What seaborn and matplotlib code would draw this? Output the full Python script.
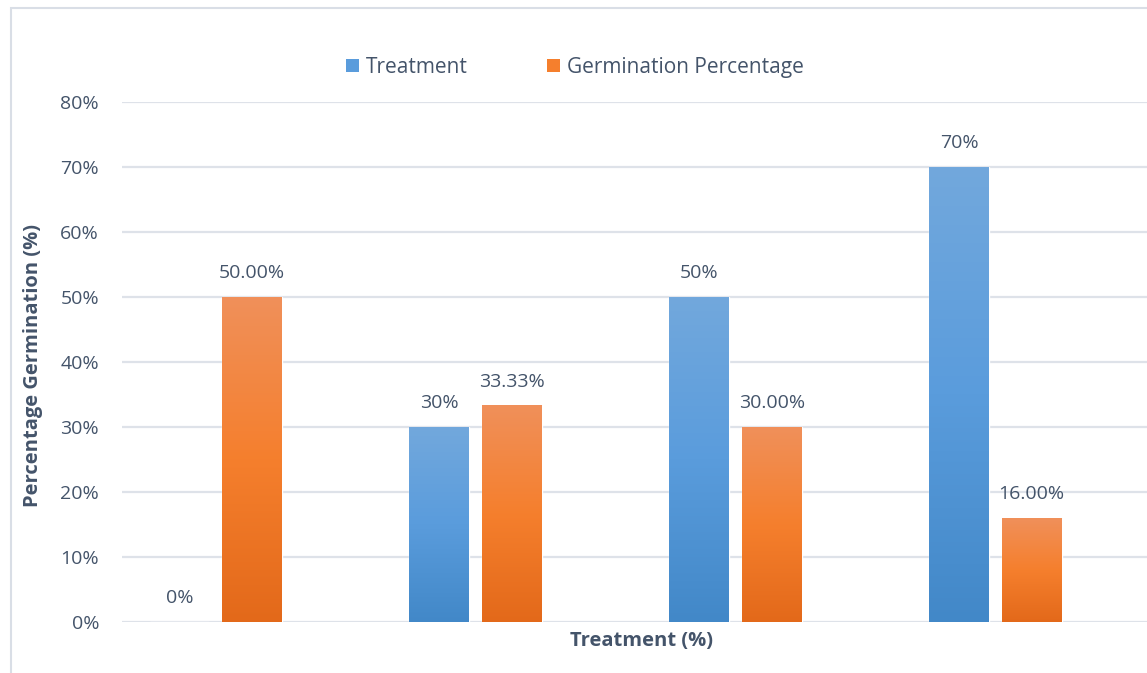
import numpy as np
import pandas as pd
import matplotlib
matplotlib.use("Agg")
import matplotlib.pyplot as plt
from matplotlib.colors import LinearSegmentedColormap
from matplotlib.patches import Rectangle, Patch
import seaborn as sns

# ---- data ----
groups = ["G1", "G2", "G3", "G4"]
treatment = [0.00, 0.30, 0.50, 0.70]
germination = [0.50, 0.3333, 0.30, 0.16]
treatment_labels = ["0%", "30%", "50%", "70%"]
germination_labels = ["50.00%", "33.33%", "30.00%", "16.00%"]
series_names = ["Treatment", "Germination Percentage"]
yticks = [0, 0.1, 0.2, 0.3, 0.4, 0.5, 0.6, 0.7, 0.8]
ytick_labels = ["0%", "10%", "20%", "30%", "40%", "50%", "60%", "70%", "80%"]

df = pd.DataFrame({
    "group": groups * 2,
    "series": [series_names[0]] * 4 + [series_names[1]] * 4,
    "value": treatment + germination,
})

sns.set_theme(style="white")
plt.rcParams["font.family"] = ["Open Sans", "DejaVu Sans"]

TXT = "#44546A"
GRID = "#DEE2E9"
blue_stops = ["#72A8DD", "#5A9CDC", "#4288C8"]
orange_stops = ["#F0905A", "#F57F2D", "#E3691A"]
base_colors = ["#5B9BD5", "#ED7D31"]

W, H = 1147, 673
fig = plt.figure(figsize=(W / 100, H / 100), dpi=100)
ax = fig.add_axes([122 / W, (H - 622) / H, (W - 122) / W, 520 / H])

sns.barplot(data=df, x="group", y="value", hue="series", hue_order=series_names,
            order=groups, palette=base_colors, width=0.558, gap=0.178,
            ax=ax, legend=False, saturation=1, errorbar=None, zorder=3)

# gradient fills per bar
cmaps = [LinearSegmentedColormap.from_list("b", blue_stops),
         LinearSegmentedColormap.from_list("o", orange_stops)]
grad = np.linspace(0, 1, 256).reshape(-1, 1)
containers = ax.containers
for ci, cont in enumerate(containers):
    for p in cont.patches:
        x0, y0 = p.get_x(), p.get_y()
        w, h = p.get_width(), p.get_height()
        if h <= 0:
            continue
        ax.imshow(grad, cmap=cmaps[ci], aspect="auto", origin="upper",
                  extent=[x0, x0 + w, y0, y0 + h], zorder=3.5, interpolation="bilinear")

# data labels
all_labels = [treatment_labels, germination_labels]
for ci, cont in enumerate(containers):
    for i, p in enumerate(cont.patches):
        cx = p.get_x() + p.get_width() / 2
        top = p.get_height()
        ax.annotate(all_labels[ci][i], (cx, top), xytext=(0, 10.5), textcoords="offset points",
                    ha="center", va="bottom", fontsize=14, color=TXT, zorder=5)

ax.set_xlim(-0.36, 3.583)
ax.set_ylim(0, 0.8)
ax.set_yticks(yticks)
ax.set_yticklabels(ytick_labels, fontsize=14, color=TXT)
ax.tick_params(axis="y", length=0, pad=16.5)
ax.set_xticks([])
ax.set_xlabel("")
ax.set_ylabel("")
for s in ax.spines.values():
    s.set_visible(False)
ax.yaxis.grid(True, color=GRID, linewidth=1.6, zorder=0)
ax.set_axisbelow(True)

# axis titles
fig.text(642 / W, 1 - 641 / H, "Treatment (%)", ha="center", va="center",
         fontsize=14.5, fontweight="bold", color=TXT)
fig.text(33 / W, 1 - 366 / H, "Percentage Germination (%)", ha="center", va="center",
         rotation=90, fontsize=14.5, fontweight="bold", color=TXT)

# legend (top center)
handles = [Patch(facecolor=blue_stops[1], edgecolor="none"),
           Patch(facecolor=orange_stops[1], edgecolor="none")]
leg = fig.legend(handles, series_names, loc="center", bbox_to_anchor=(575 / W, 1 - 67.5 / H),
                 ncol=2, frameon=False, fontsize=15, handlelength=0.62, handleheight=0.62,
                 handletextpad=0.34, columnspacing=3.8)
for t in leg.get_texts():
    t.set_color(TXT)

# chart border (right and bottom cut off)
fig.patches.append(Rectangle((11 / W, -0.1), 1.2, (1 - 8 / H) + 0.1,
                             transform=fig.transFigure, fill=False,
                             edgecolor="#D9DEE6", linewidth=1.5))

fig.savefig("out.png", dpi=100, facecolor="white")
